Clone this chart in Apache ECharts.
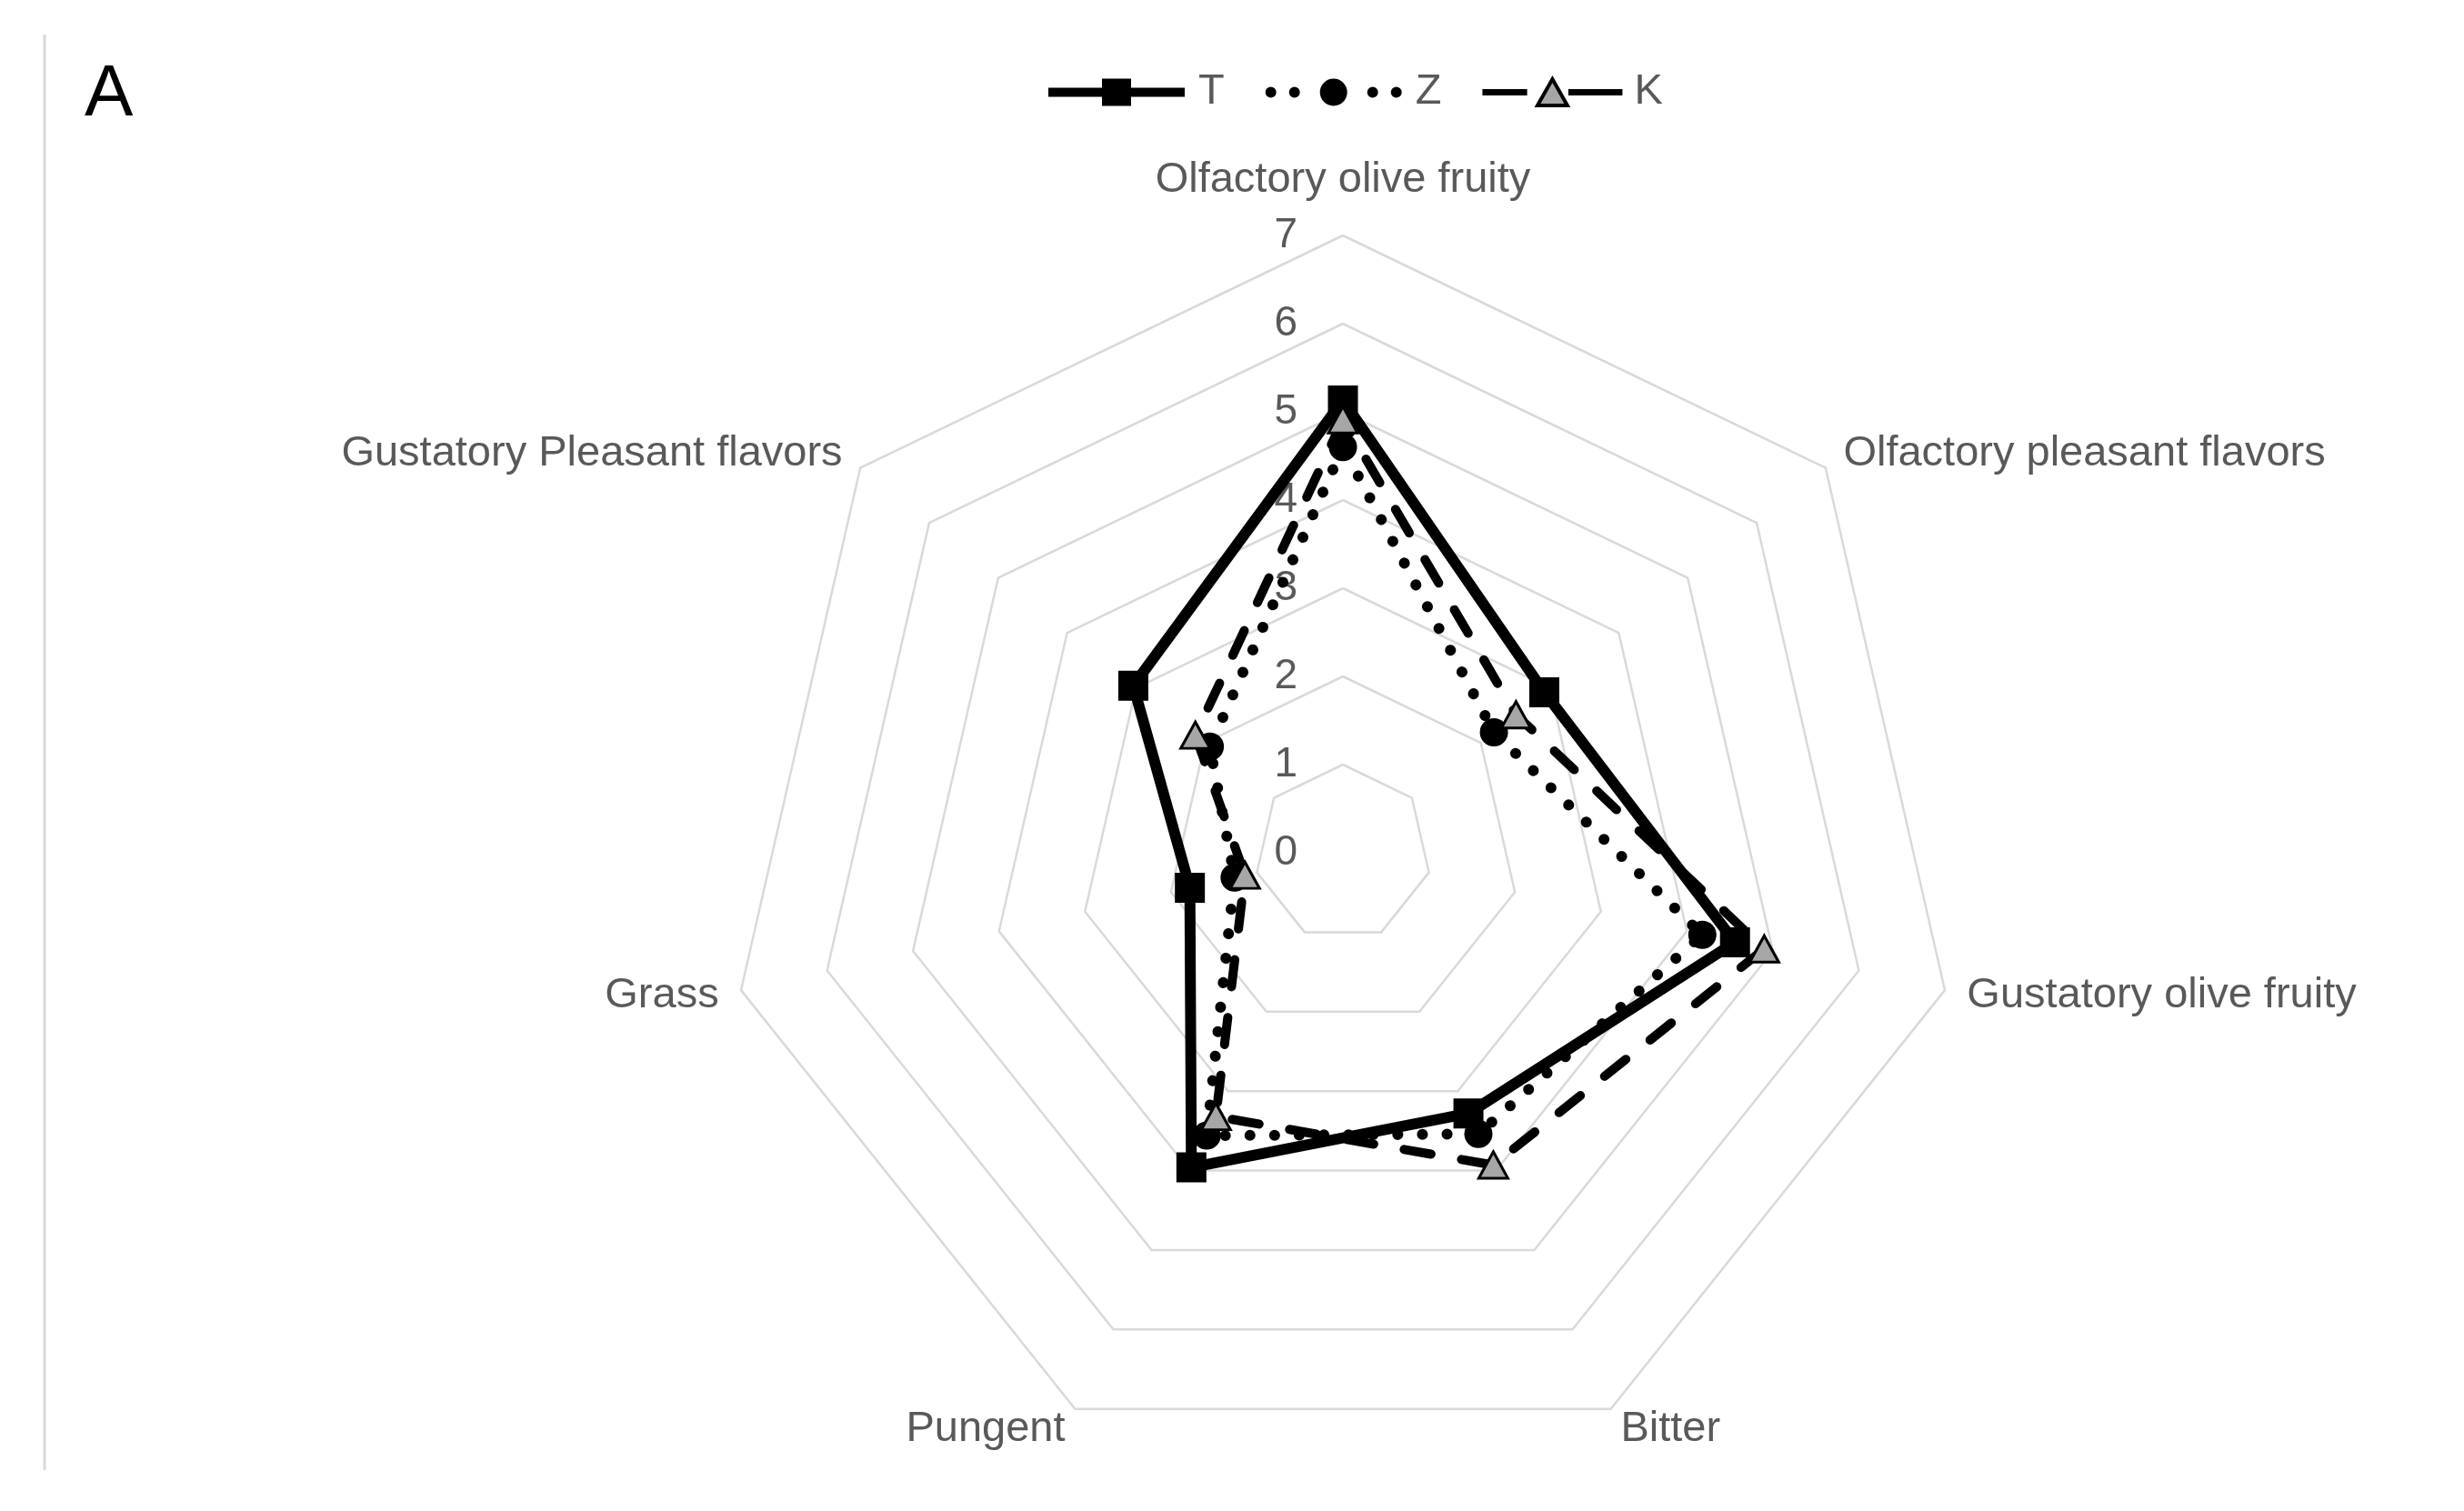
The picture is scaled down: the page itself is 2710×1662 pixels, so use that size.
<!DOCTYPE html>
<html>
<head>
<meta charset="utf-8">
<script src="https://cdn.jsdelivr.net/npm/echarts@6/dist/echarts.min.js"></script>
<style>
  html, body { margin: 0; padding: 0; background: #ffffff; }
  #chart { width: 2710px; height: 1662px; }
</style>
</head>
<body>
<div id="chart"></div>
<script>
// Attributes, listed clockwise starting from the top axis (as in the reference)
const attributes = [
  'Olfactory olive fruity',
  'Olfactory pleasant flavors',
  'Gustatory olive fruity',
  'Bitter',
  'Pungent',
  'Grass',
  'Gustatory Pleasant flavors'
];
const seriesNames = ['T', 'Z', 'K'];
const valuesT = [5.13, 2.92, 4.56, 3.28, 3.96, 1.78, 3.04];
const valuesZ = [4.60, 2.19, 4.18, 3.54, 3.56, 1.26, 1.93];
const valuesK = [4.91, 2.51, 4.90, 3.93, 3.32, 1.14, 2.14];
const axisMin = 0;
const axisMax = 7;
const axisSplits = 7;
const panelLabel = 'A';

// ECharts lays radar indicators out counter-clockwise; reorder to get clockwise
const order = [0, 6, 5, 4, 3, 2, 1];
const reorder = arr => order.map(i => arr[i]);

const FONT = 'Liberation Sans, Arial, sans-serif';
const GREY_TEXT = '#595959';

const indicator = reorder(attributes).map((name, i) => {
  const ind = { name: name, min: axisMin, max: axisMax };
  if (i === 0) {
    ind.axisLabel = {
      show: true, color: GREY_TEXT, fontSize: 46, fontFamily: FONT, margin: 50
    };
  }
  return ind;
});

// legend icons (line + marker)
function circ(cx, cy, r) {
  return 'M' + (cx - r) + ',' + cy + ' a' + r + ',' + r + ' 0 1,0 ' + (2 * r) + ',0 a' + r + ',' + r + ' 0 1,0 ' + (-2 * r) + ',0 Z ';
}
const iconT = 'path://M0,10 L150,10 L150,20 L0,20 Z M59,0 L91,0 L91,30 L59,30 Z';
const iconZ = 'path://' + circ(6, 15, 6) + circ(32, 15, 6) + circ(75, 15, 15) + circ(118, 15, 6) + circ(144, 15, 6);
const iconK = 'path://M2,13.5 L46,13.5 L46,16.5 L2,16.5 Z M75,1 L91,29 L59,29 Z M94,13.5 L148,13.5 L148,16.5 L94,16.5 Z';

const chart = echarts.init(document.getElementById('chart'), null, { renderer: 'canvas' });

chart.setOption({
  backgroundColor: '#ffffff',
  animation: false,
  title: {
    text: panelLabel,
    left: 88,
    top: 60,
    textStyle: { fontSize: 80, fontWeight: 'normal', color: '#000000', fontFamily: FONT }
  },
  graphic: [{
    type: 'line',
    shape: { x1: 49, y1: 38, x2: 49, y2: 1617 },
    style: { stroke: '#d9d9d9', lineWidth: 3 },
    silent: true
  }],
  legend: {
    left: 1153,
    top: 78,
    padding: 0,
    itemWidth: 150,
    itemHeight: 30,
    itemGap: 45,
    textStyle: { color: GREY_TEXT, fontSize: 47, fontFamily: FONT, padding: [0, 0, 0, 10] },
    data: [
      { name: seriesNames[0], icon: iconT, itemStyle: { color: '#000000', borderWidth: 0 } },
      { name: seriesNames[1], icon: iconZ, itemStyle: { color: '#000000', borderWidth: 0 } },
      { name: seriesNames[2], icon: iconK, itemStyle: { color: '#a6a6a6', borderColor: '#000000', borderWidth: 4 } }
    ]
  },
  radar: {
    center: [1477, 938],
    radius: 679,
    startAngle: 90,
    shape: 'polygon',
    splitNumber: axisSplits,
    indicator: indicator,
    nameGap: 25,
    axisName: {
      color: GREY_TEXT, fontSize: 47, fontFamily: FONT,
      formatter: function (name) {
        return name === attributes[0] ? '{top|' + name + '}' : name;
      },
      rich: {
        top: { color: GREY_TEXT, fontSize: 47, fontFamily: FONT, padding: [0, 0, 12, 0] }
      }
    },
    axisLine: { show: false },
    axisTick: { show: false },
    axisLabel: { show: false },
    splitLine: { lineStyle: { color: '#d9d9d9', width: 2.5 } },
    splitArea: { show: false }
  },
  series: [
    {
      name: seriesNames[0],
      type: 'radar',
      z: 2,
      symbol: 'rect',
      symbolSize: 33,
      itemStyle: { color: '#000000' },
      lineStyle: { color: '#000000', width: 12, type: 'solid', join: 'round' },
      data: [{ name: seriesNames[0], value: reorder(valuesT) }]
    },
    {
      name: seriesNames[1],
      type: 'radar',
      z: 3,
      symbol: 'circle',
      symbolSize: 31,
      itemStyle: { color: '#000000' },
      lineStyle: { color: '#000000', width: 12, type: [0.1, 27], cap: 'round' },
      data: [{ name: seriesNames[1], value: reorder(valuesZ) }]
    },
    {
      name: seriesNames[2],
      type: 'radar',
      z: 4,
      symbol: 'triangle',
      symbolSize: [32, 29],
      itemStyle: { color: '#a6a6a6', borderColor: '#000000', borderWidth: 3 },
      lineStyle: { color: '#000000', width: 10, type: [30, 34], cap: 'round' },
      data: [{ name: seriesNames[2], value: reorder(valuesK) }]
    }
  ]
});
</script>
</body>
</html>
